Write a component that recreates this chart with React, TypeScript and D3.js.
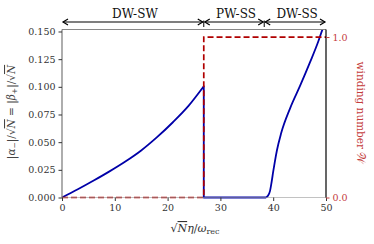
import { useEffect, useRef } from 'react';
import * as d3 from 'd3';

// order parameter |alpha_-|/sqrt(N) vs sqrt(N) eta / omega_rec
const etaVals = [0, 3, 6, 9, 12, 15, 18, 21, 24, 26.85, 26.85, 30, 34, 38.6, 39.0, 39.4, 39.7, 40.0, 40.3, 40.7, 41.5, 43.2, 45.1, 47.0, 48.5, 49.3, 50];
const alphaVals = [0, 0.0074, 0.0153, 0.0236, 0.0325, 0.0425, 0.0545, 0.068, 0.083, 0.1005, 0, 0, 0, 0, 0.0015, 0.006, 0.014, 0.0233, 0.032, 0.0425, 0.058, 0.0806, 0.101, 0.1225, 0.1405, 0.1515, 0.16];

// winding number
const windEta = [0, 26.85, 26.85, 50];
const windVals = [0, 0, 1, 1];

// phase regions on top
const phaseNames = ['DW-SW', 'PW-SS', 'DW-SS'];
const phaseEdges = [0, 26.85, 38.3, 50];

const xTicks = [0, 10, 20, 30, 40, 50];
const yTicks = [0, 0.025, 0.05, 0.075, 0.1, 0.125, 0.15];
const wTicks = [0, 1];

const App = () => {
  const svgRef = useRef<SVGSVGElement>(null);

  useEffect(() => {
    const left = 62, right = 326, top = 29.5, bottom = 197.5;
    const svg = d3.select(svgRef.current);
    svg.selectAll('*').remove();

    const x = d3.scaleLinear().domain([0, 50]).range([left, right]);
    const y = d3.scaleLinear().domain([0, 0.1518]).range([bottom, top]);
    const yw = d3.scaleLinear().domain([0, 1.047]).range([bottom, top]);

    const font = 'DejaVu Serif';
    const tickCol = '#333';
    const redAx = '#c43c3c';

    svg.append('defs').append('clipPath').attr('id', 'plotclip')
      .append('rect').attr('x', left - 3).attr('y', top).attr('width', right - left + 3).attr('height', bottom - top + 3);

    // curves: smooth branches, straight jump + flat part
    const pts = etaVals.map((e, i) => [e, alphaVals[i]] as [number, number]);
    const smooth = d3.line<[number, number]>().x(d => x(d[0])).y(d => y(d[1])).curve(d3.curveMonotoneX);
    const straight = d3.line<[number, number]>().x(d => x(d[0])).y(d => y(d[1]));
    const d = smooth(pts.slice(0, 10))! + straight(pts.slice(9, 14))!.replace(/^M/, 'L') +
      smooth(pts.slice(13))!.replace(/^M/, 'L');
    svg.append('path')
      .attr('clip-path', 'url(#plotclip)')
      .attr('fill', 'none').attr('stroke', '#0000a8').attr('stroke-width', 1.8)
      .attr('stroke-linejoin', 'round')
      .attr('d', d);

    const wpts = windEta.map((e, i) => [e, windVals[i]] as [number, number]);
    svg.append('path').datum(wpts)
      .attr('clip-path', 'url(#plotclip)')
      .attr('fill', 'none').attr('stroke', '#b00000').attr('stroke-width', 1.7)
      .attr('stroke-dasharray', '6,3')
      .attr('d', d3.line<[number, number]>().x(p => x(p[0])).y(p => yw(p[1])));

    // spines
    const sp = svg.append('g').attr('fill', 'none');
    sp.append('line').attr('x1', left).attr('x2', right).attr('y1', top).attr('y2', top).attr('stroke', '#888').attr('stroke-width', 1.2);
    sp.append('line').attr('x1', left).attr('x2', right).attr('y1', bottom).attr('y2', bottom).attr('stroke', '#999').attr('stroke-width', 1.2).attr('stroke-opacity', 0.6);
    sp.append('line').attr('x1', left).attr('x2', left).attr('y1', top).attr('y2', bottom).attr('stroke', '#777').attr('stroke-width', 1.2);
    sp.append('line').attr('x1', right).attr('x2', right).attr('y1', top).attr('y2', bottom).attr('stroke', '#000').attr('stroke-width', 1.2);

    // axes
    const gx = svg.append('g').attr('transform', `translate(0,${bottom})`)
      .call(d3.axisBottom(x).tickValues(xTicks).tickSize(3.5).tickPadding(3).tickFormat(d3.format('d')));
    const gy = svg.append('g').attr('transform', `translate(${left},0)`)
      .call(d3.axisLeft(y).tickValues(yTicks).tickSize(3.5).tickPadding(3).tickFormat(d3.format('.3f')));
    const gw = svg.append('g').attr('transform', `translate(${right},0)`)
      .call(d3.axisRight(yw).tickValues(wTicks).tickSize(3.5).tickPadding(3).tickFormat(d3.format('.1f')));
    [gx, gy, gw].forEach(g => {
      g.select('.domain').remove();
      g.selectAll('text').attr('font-family', font).attr('font-size', 9.5);
    });
    gx.selectAll('line').attr('stroke', tickCol);
    gx.selectAll('text').attr('fill', tickCol);
    gy.selectAll('line').attr('stroke', tickCol);
    gy.selectAll('text').attr('fill', tickCol);
    gw.selectAll('line').attr('stroke', redAx);
    gw.selectAll('text').attr('fill', redAx);

    // phase arrows
    const ay = 22;
    const head = (xx: number, dir: number) =>
      `M${xx + dir * 5},${ay - 3}L${xx},${ay}L${xx + dir * 5},${ay + 3}`;
    const ann = svg.append('g');
    phaseNames.forEach((name, i) => {
      const x0 = x(phaseEdges[i]), x1 = x(phaseEdges[i + 1]);
      ann.append('line').attr('x1', x0 + 1).attr('x2', x1 - 1).attr('y1', ay).attr('y2', ay)
        .attr('stroke', '#000').attr('stroke-width', 1.2);
      ann.append('path').attr('d', head(x0 + 1, 1) + head(x1 - 1, -1))
        .attr('fill', 'none').attr('stroke', '#000').attr('stroke-width', 1.2);
      ann.append('text').attr('x', (x0 + x1) / 2 + 2).attr('y', 17.5)
        .attr('text-anchor', 'middle').attr('font-family', font).attr('font-size', 12)
        .attr('fill', '#111').text(name);
    });
    phaseEdges.slice(1, -1).forEach(e => {
      ann.append('line').attr('x1', x(e)).attr('x2', x(e)).attr('y1', 20.5).attr('y2', 27)
        .attr('stroke', '#000').attr('stroke-width', 1);
    });

    // x label
    const xl = svg.append('text').attr('x', 195).attr('y', 232).attr('text-anchor', 'middle')
      .attr('font-family', font).attr('font-size', 11).attr('fill', tickCol);
    xl.append('tspan').text('√');
    xl.append('tspan').attr('font-style', 'italic').style('text-decoration', 'overline').text('N');
    xl.append('tspan').attr('font-style', 'italic').text('η');
    xl.append('tspan').text('/');
    xl.append('tspan').attr('font-style', 'italic').text('ω');
    xl.append('tspan').attr('font-size', 8).attr('dy', 2).text('rec');

    // left label
    const yl = svg.append('text').attr('transform', 'translate(15,112) rotate(-90)').attr('text-anchor', 'middle')
      .attr('font-family', font).attr('font-size', 10.5).attr('fill', '#444');
    yl.append('tspan').text('|');
    yl.append('tspan').attr('font-style', 'italic').text('α');
    yl.append('tspan').attr('font-size', 7.5).attr('dy', 2).text('−');
    yl.append('tspan').attr('dy', -2).text('|/√');
    yl.append('tspan').attr('font-style', 'italic').style('text-decoration', 'overline').text('N');
    yl.append('tspan').text(' = |');
    yl.append('tspan').attr('font-style', 'italic').text('β');
    yl.append('tspan').attr('font-size', 7.5).attr('dy', 2).text('+');
    yl.append('tspan').attr('dy', -2).text('|/√');
    yl.append('tspan').attr('font-style', 'italic').style('text-decoration', 'overline').text('N');

    // right label
    const rl = svg.append('text').attr('transform', 'translate(357,113) rotate(90)').attr('text-anchor', 'middle')
      .attr('font-family', font).attr('font-size', 10.5).attr('fill', redAx);
    rl.append('tspan').text('winding number ');
    rl.append('tspan').text('𝒲');
  }, []);

  return (
    <svg ref={svgRef} width={374} height={244}
      style={{ position: 'absolute', left: 0, top: 0, background: '#fff' }} />
  );
};

export default App;
